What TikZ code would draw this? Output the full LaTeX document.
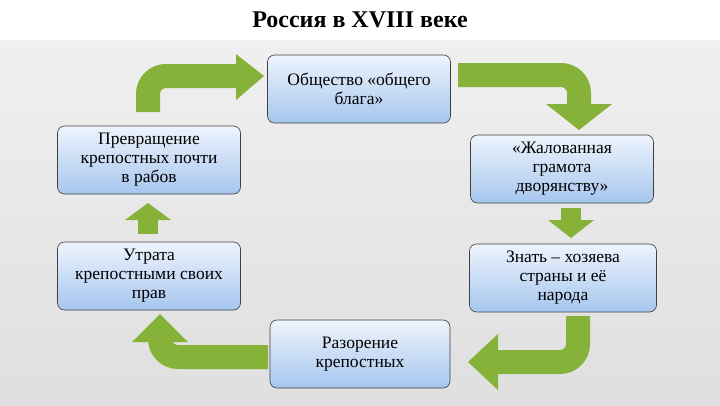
\documentclass[tikz,border=0pt]{standalone}
\usepackage{fontspec}
\setmainfont{Liberation Serif}
\newfontfamily\boxfont{Liberation Serif}
\begin{document}
\begin{tikzpicture}[x=1pt,y=-1pt]
\definecolor{ar}{HTML}{86B23A}
\definecolor{boxtop}{HTML}{EEF4FD}
\definecolor{boxbot}{HTML}{A6C6EE}
\tikzset{box/.style={draw=black!75,rounded corners=7pt,top color=boxtop,bottom color=boxbot,
    minimum width=183pt,minimum height=68pt,align=center,font=\boxfont\fontsize{17.5}{19}\selectfont,inner sep=2pt,line width=0.6pt},
  shaft/.style={line width=24pt,draw=ar,rounded corners=18pt},head/.style={fill=ar}}
\useasboundingbox (0,0) rectangle (720,405);
\fill[white] (0,0) rectangle (720,40);
\shade[top color=gray!12,bottom color=gray!25] (0,40) rectangle (720,405);
\node[font=\boxfont\bfseries\fontsize{24}{26}\selectfont] (title) at (360,20) {Россия в XVIII веке};
% arrows
\draw[shaft] (148,112) -- (148,76) -- (238,76);
\fill[head] (236,54) -- (264,76) -- (236,100) -- cycle;
\draw[shaft] (458,75) -- (579,75) -- (579,106);
\fill[head] (546,104) -- (579,130) -- (612,104) -- cycle;
\draw[line width=20pt,draw=ar] (571,208) -- (571,222);
\fill[head] (548,220) -- (571,238) -- (594,220) -- cycle;
\draw[line width=20pt,draw=ar] (148,234) -- (148,220);
\fill[head] (125,220) -- (148,203) -- (171,220) -- cycle;
\draw[shaft] (578,316) -- (578,362) -- (496,362);
\fill[head] (498,334) -- (468,362) -- (498,390) -- cycle;
\draw[shaft] (268,357) -- (160,357) -- (160,340);
\fill[head] (132,342) -- (160,314) -- (188,342) -- cycle;
% boxes
\node[box] (top) at (359,89) {Общество «общего\\ блага»};
\node[box] (l1) at (149,160) {Превращение\\ крепостных почти\\ в рабов};
\node[box] (r1) at (562,169) {«Жалованная\\ грамота\\ дворянству»};
\node[box] (l2) at (149,276) {Утрата\\ крепостными своих\\ прав};
\node[box,minimum width=187pt] (r2) at (563,278) {Знать – хозяева\\ страны и её\\ народа};
\node[box,minimum width=180pt] (bot) at (360,354) {Разорение\\ крепостных};
\end{tikzpicture}
\end{document}
